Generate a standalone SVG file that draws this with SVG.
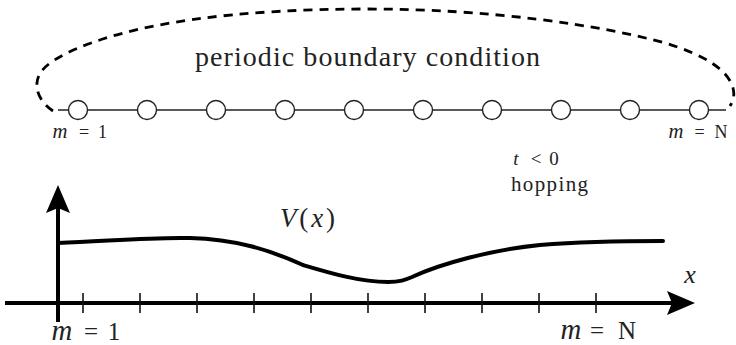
<svg xmlns="http://www.w3.org/2000/svg" width="736" height="345" viewBox="0 0 736 345">
<defs>
<style>
.txt{font-family:"Liberation Serif","DejaVu Serif",serif;fill:#222}
.it{font-style:italic}
.m{font-style:italic;font-size:1.15em}
.site{fill:#fff;stroke:#222;stroke-width:1.4}
.bond{stroke:#222;stroke-width:1.3;fill:none}
.axis{stroke:#000;stroke-width:4;fill:none}
.tick{stroke:#111;stroke-width:1.6}
.pbc{stroke:#000;stroke-width:2.8;fill:none;stroke-dasharray:9 7}
.pot{stroke:#000;stroke-width:4;fill:none;stroke-linecap:round}
</style>
<marker id="arr" markerUnits="userSpaceOnUse" markerWidth="28" markerHeight="24" viewBox="0 0 28 24" refX="5" refY="12" orient="auto">
<path d="M0,0 L28,12 L0,24 L5,12 Z" fill="#000"/>
</marker>
</defs>
<g id="connectors">
<path id="pbc" class="pbc" d="M53,111 C42,104 36,93 37,83 C38,70 50,62 65,54 C130,22 240,9 368,9 C490,9 600,25 665,43 C705,55 728,70 733,88 C735,96 733,101 730,106"/>
<line class="bond" x1="58" y1="110" x2="726" y2="110"/>
</g>
<g id="chain">
<circle class="site" cx="78" cy="110" r="9.5"/>
<circle class="site" cx="147" cy="110" r="9.5"/>
<circle class="site" cx="216" cy="110" r="9.5"/>
<circle class="site" cx="285" cy="110" r="9.5"/>
<circle class="site" cx="354" cy="110" r="9.5"/>
<circle class="site" cx="423" cy="110" r="9.5"/>
<circle class="site" cx="492" cy="110" r="9.5"/>
<circle class="site" cx="561" cy="110" r="9.5"/>
<circle class="site" cx="630" cy="110" r="9.5"/>
<circle class="site" cx="699" cy="110" r="9.5"/>
</g>
<g id="labels-top" class="txt">
<text x="195" y="66" font-size="28" textLength="345" lengthAdjust="spacing">periodic boundary condition</text>
<text y="138" font-size="18" text-anchor="middle"><tspan class="m" x="60">m</tspan><tspan x="84">=</tspan><tspan x="102.5">1</tspan></text>
<text y="138" font-size="18" text-anchor="middle"><tspan class="m" x="676">m</tspan><tspan x="699.5">=</tspan><tspan x="721">N</tspan></text>
<text y="165" font-size="19" text-anchor="middle"><tspan class="it" x="516">t</tspan><tspan x="536">&lt;</tspan><tspan x="554">0</tspan></text>
<text x="511" y="191" font-size="21" textLength="77" lengthAdjust="spacing">hopping</text>
</g>
<g id="plot">
<line class="axis" x1="5" y1="303" x2="672" y2="303" marker-end="url(#arr)"/>
<line class="axis" x1="58" y1="322" x2="58" y2="208" marker-end="url(#arr)"/>
<g class="tick">
<line x1="83" y1="293" x2="83" y2="313"/>
<line x1="140" y1="293" x2="140" y2="313"/>
<line x1="197" y1="293" x2="197" y2="313"/>
<line x1="254" y1="293" x2="254" y2="313"/>
<line x1="311" y1="293" x2="311" y2="313"/>
<line x1="368" y1="293" x2="368" y2="313"/>
<line x1="425" y1="293" x2="425" y2="313"/>
<line x1="482" y1="293" x2="482" y2="313"/>
<line x1="539" y1="293" x2="539" y2="313"/>
<line x1="596" y1="293" x2="596" y2="313"/>
</g>
<path class="pot" d="M58,243 C110,241 150,237 190,238 C235,239 270,250 303,265 C330,273 360,282 388,282 C400,282 405,280 412,277 C440,264 490,250 540,245 C590,241 630,241 663,241"/>
</g>
<g id="labels-plot" class="txt">
<text x="280" y="227" font-size="27" textLength="55" lengthAdjust="spacing"><tspan class="it">V</tspan>(<tspan class="it">x</tspan>)</text>
<text x="690" y="283" font-size="26" class="it" text-anchor="middle">x</text>
<text y="340" font-size="25" text-anchor="middle"><tspan class="m" x="62">m</tspan><tspan x="91">=</tspan><tspan x="114">1</tspan></text>
<text y="339" font-size="25" text-anchor="middle"><tspan class="m" x="571">m</tspan><tspan x="597">=</tspan><tspan x="627">N</tspan></text>
</g>
</svg>
